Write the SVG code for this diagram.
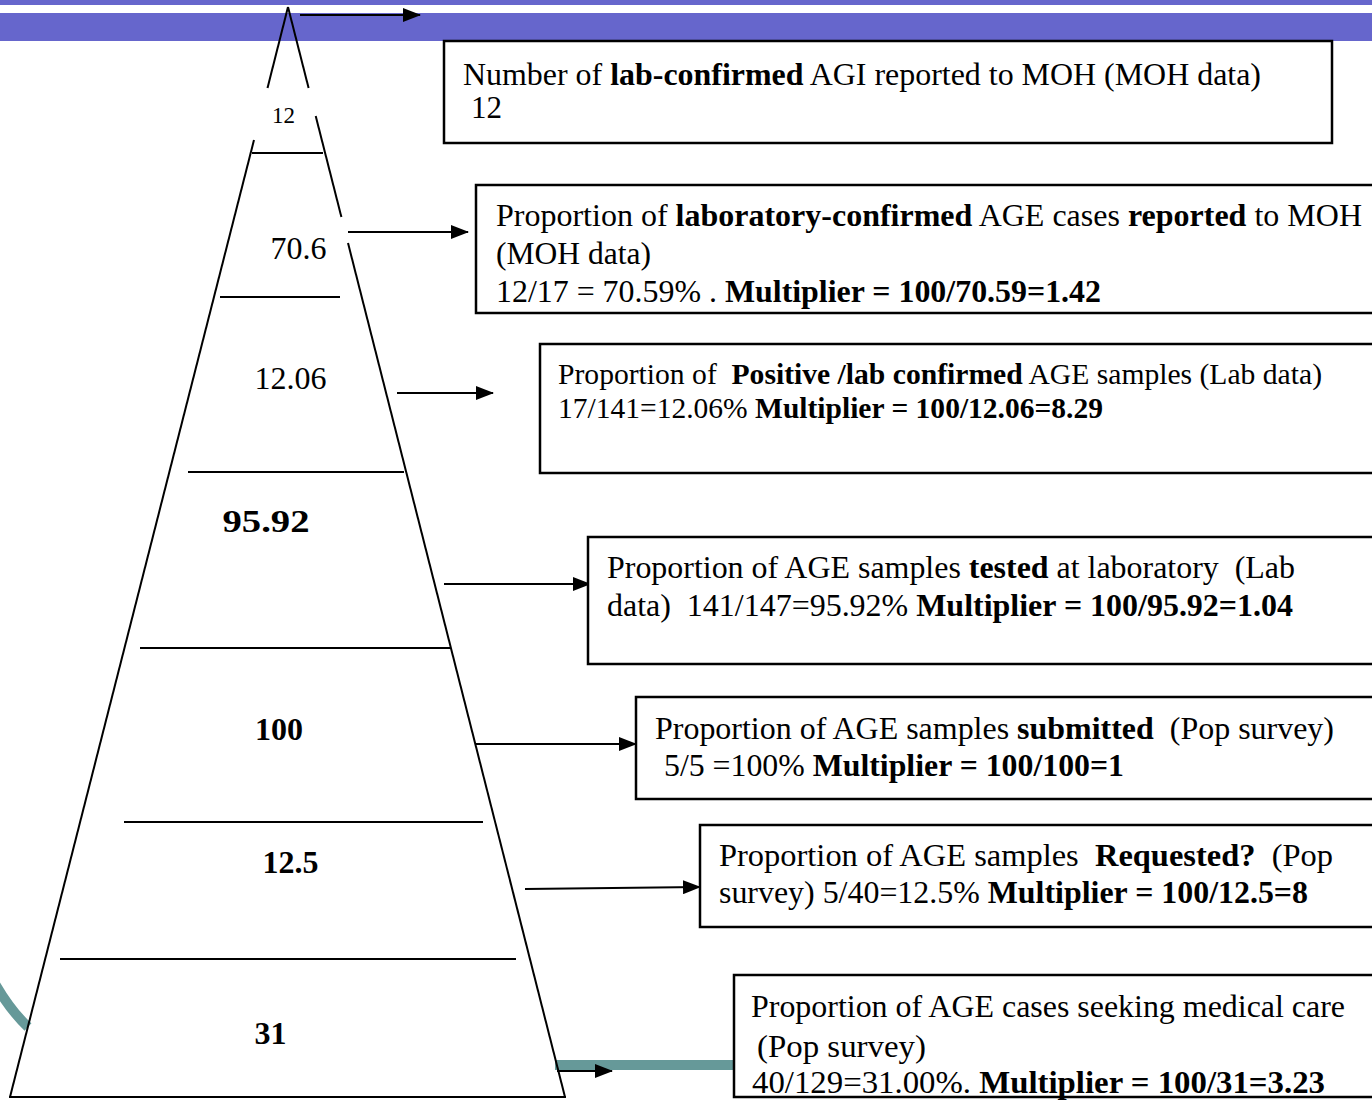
<svg xmlns="http://www.w3.org/2000/svg" width="1372" height="1101" viewBox="0 0 1372 1101">
<defs>
<style>
.bar{fill:#6666cc}
.edge{stroke:#000;stroke-width:2;fill:none}
.lvl{stroke:#000;stroke-width:2}
.box{fill:#fff;stroke:#000;stroke-width:2.5}
.conn{stroke:#000;stroke-width:2;fill:none;marker-end:url(#ah)}
.teal{stroke:#669999;stroke-width:10;fill:none}
text{font-family:"Liberation Serif","Times New Roman",serif;fill:#000;white-space:pre}
.t{font-size:31px}
.s{font-size:29px}
.b{font-weight:bold}
.lab{font-size:32px;text-anchor:middle}
.labb{font-size:32px;font-weight:bold;text-anchor:middle}
</style>
<marker id="ah" markerWidth="18" markerHeight="14" refX="17" refY="7" orient="auto" markerUnits="userSpaceOnUse" viewBox="0 0 18 14">
<path d="M0,0 L18,7 L0,14 Z" fill="#000"/>
</marker>
</defs>
<rect x="0" y="0" width="1372" height="1101" fill="#fff"/>
<rect class="bar" x="0" y="0" width="1372" height="5"/>
<rect class="bar" x="0" y="13" width="1372" height="28"/>
<path class="teal" d="M-6,982 Q10,1010 28,1027"/>
<line class="teal" x1="555" y1="1065" x2="740" y2="1065"/>

<g id="pyramid">
<line class="edge" x1="288" y1="7" x2="267.5" y2="88"/>
<line class="edge" x1="288" y1="7" x2="308.6" y2="88"/>
<line class="edge" x1="254" y1="140" x2="10" y2="1097"/>
<line class="edge" x1="315.7" y1="116" x2="341.4" y2="217"/>
<line class="edge" x1="348" y1="243" x2="565" y2="1097"/>
<line class="edge" x1="9" y1="1097" x2="566" y2="1097"/>
<line class="lvl" x1="252" y1="153" x2="323" y2="153"/>
<line class="lvl" x1="220" y1="297" x2="340" y2="297"/>
<line class="lvl" x1="188" y1="472" x2="404" y2="472"/>
<line class="lvl" x1="140" y1="648" x2="451" y2="648"/>
<line class="lvl" x1="124" y1="822" x2="483" y2="822"/>
<line class="lvl" x1="60" y1="959" x2="516" y2="959"/>
<text x="283.5" y="123" style="font-size:23px;text-anchor:middle">12</text>
<text class="lab" x="298.5" y="259">70.6</text>
<text class="lab" x="290.5" y="389">12.06</text>
<text class="labb" x="266" y="532" textLength="87" lengthAdjust="spacingAndGlyphs">95.92</text>
<text class="labb" x="279" y="740">100</text>
<text class="labb" x="290.5" y="873">12.5</text>
<text class="labb" x="270.5" y="1044">31</text>
</g>

<g id="connectors">
<line class="conn" x1="300" y1="15" x2="420" y2="15"/>
<line class="conn" x1="348" y1="232" x2="468" y2="232"/>
<line class="conn" x1="397" y1="393" x2="493" y2="393"/>
<line class="conn" x1="444" y1="584" x2="590" y2="584"/>
<line class="conn" x1="476" y1="744" x2="636" y2="744"/>
<line class="conn" x1="525" y1="889" x2="700" y2="887"/>
<line class="conn" x1="557" y1="1071" x2="612" y2="1071"/>
</g>

<g id="box1">
<rect class="box" x="444" y="41" width="888" height="102"/>
<text class="t" x="463" y="85" textLength="798" lengthAdjust="spacingAndGlyphs">Number of <tspan class="b">lab-confirmed</tspan> AGI reported to MOH (MOH data)</text>
<text class="t" x="471" y="118">12</text>
</g>

<g id="box2">
<rect class="box" x="476" y="185" width="910" height="128"/>
<text class="t" x="496" y="226" textLength="866" lengthAdjust="spacingAndGlyphs">Proportion of <tspan class="b">laboratory-confirmed</tspan> AGE cases <tspan class="b">reported</tspan> to MOH</text>
<text class="t" x="496" y="264" textLength="155" lengthAdjust="spacingAndGlyphs">(MOH data)</text>
<text class="t" x="496" y="302" textLength="605" lengthAdjust="spacingAndGlyphs">12/17 = 70.59% . <tspan class="b">Multiplier = 100/70.59=1.42</tspan></text>
</g>

<g id="box3">
<rect class="box" x="540" y="344" width="846" height="129"/>
<text class="s" x="558" y="384" textLength="764" lengthAdjust="spacingAndGlyphs">Proportion of  <tspan class="b">Positive /lab confirmed</tspan> AGE samples (Lab data)</text>
<text class="s" x="558" y="418" textLength="545" lengthAdjust="spacingAndGlyphs">17/141=12.06% <tspan class="b">Multiplier = 100/12.06=8.29</tspan></text>
</g>

<g id="box4">
<rect class="box" x="588" y="537" width="798" height="127"/>
<text class="t" x="607" y="578" textLength="688" lengthAdjust="spacingAndGlyphs">Proportion of AGE samples <tspan class="b">tested</tspan> at laboratory  (Lab</text>
<text class="t" x="607" y="616" textLength="686" lengthAdjust="spacingAndGlyphs">data)  141/147=95.92% <tspan class="b">Multiplier = 100/95.92=1.04</tspan></text>
</g>

<g id="box5">
<rect class="box" x="636" y="697" width="750" height="102"/>
<text class="t" x="655" y="739" textLength="679" lengthAdjust="spacingAndGlyphs">Proportion of AGE samples <tspan class="b">submitted</tspan>  (Pop survey)</text>
<text class="t" x="664" y="776" textLength="460" lengthAdjust="spacingAndGlyphs">5/5 =100% <tspan class="b">Multiplier = 100/100=1</tspan></text>
</g>

<g id="box6">
<rect class="box" x="700" y="825" width="686" height="102"/>
<text class="t" x="719" y="866" textLength="614" lengthAdjust="spacingAndGlyphs">Proportion of AGE samples  <tspan class="b">Requested?</tspan>  (Pop</text>
<text class="t" x="719" y="903" textLength="589" lengthAdjust="spacingAndGlyphs">survey) 5/40=12.5% <tspan class="b">Multiplier = 100/12.5=8</tspan></text>
</g>

<g id="box7">
<rect class="box" x="734" y="975" width="652" height="122"/>
<text class="t" x="751" y="1017" textLength="594" lengthAdjust="spacingAndGlyphs">Proportion of AGE cases seeking medical care</text>
<text class="t" x="757" y="1057" textLength="169" lengthAdjust="spacingAndGlyphs">(Pop survey)</text>
<text class="t" x="752" y="1093" textLength="573" lengthAdjust="spacingAndGlyphs">40/129=31.00%. <tspan class="b">Multiplier = 100/31=3.23</tspan></text>
</g>
</svg>
